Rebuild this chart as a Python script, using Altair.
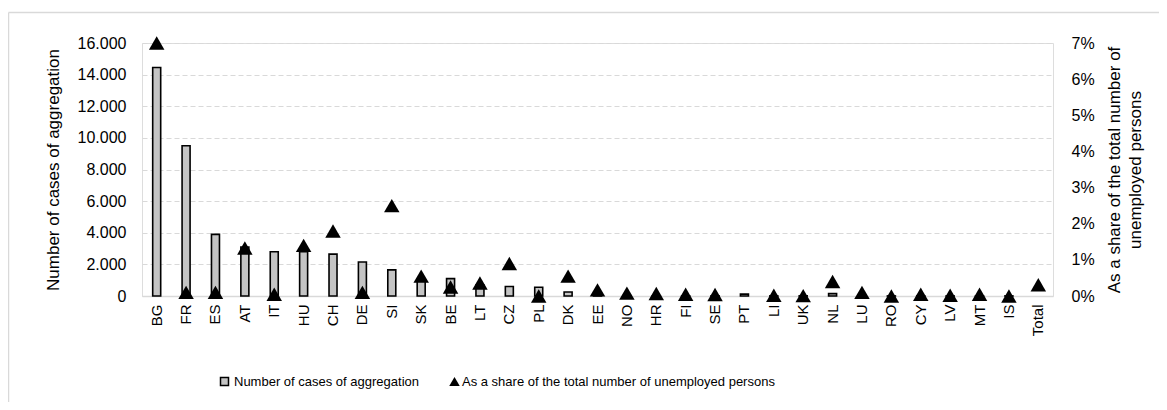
import altair as alt
import pandas as pd

countries = ["BG", "FR", "ES", "AT", "IT", "HU", "CH", "DE", "SI", "SK", "BE", "LT", "CZ", "PL", "DK",
             "EE", "NO", "HR", "FI", "SE", "PT", "LI", "UK", "NL", "LU", "RO", "CY", "LV", "MT", "IS", "Total"]
cases = [14450, 9500, 3900, 3100, 2800, 2800, 2650, 2150, 1650, 1000, 1100, 700, 600, 550, 250,
         20, 20, 20, 10, 10, 120, 5, 10, 150, 10, 5, 5, 5, 5, 5, None]
share = [0.070, 0.001, 0.001, 0.0133, 0.0005, 0.014, 0.018, 0.001, 0.025, 0.0055, 0.0025, 0.0036, 0.009, 0.0, 0.0055,
         0.0017, 0.0008, 0.0007, 0.0005, 0.0004, None, 0.0002, 0.0001, 0.004, 0.001, 0.0, 0.0005, 0.0002, 0.0005, 0.0, 0.0031]

bar_name = "Number of cases of aggregation"
pt_name = "As a share of the total number of unemployed persons"

df = pd.DataFrame({"country": countries, "cases": cases, "share": share,
                   "s1": bar_name, "s2": pt_name})

FONT = "Liberation Sans"
W, H = 911, 253

x = alt.X("country:N", sort=countries, title=None,
          scale=alt.Scale(paddingInner=0.0, paddingOuter=0.0),
          axis=alt.Axis(labelAngle=270, labelFontSize=15, labelColor="#000", labelPadding=8,
                        ticks=False, domainColor="#d9d9d9", domainWidth=1.5, labelFont=FONT,
                        labelBaseline="middle", labelAlign="right"))

bars = alt.Chart(df).mark_bar(size=8, stroke="black", strokeWidth=1.6).encode(
    x=x,
    y=alt.Y("cases:Q", scale=alt.Scale(domain=[0, 16000], nice=False),
            axis=alt.Axis(values=list(range(0, 16001, 2000)),
                          labelExpr="replace(format(datum.value, ','), ',', '.')",
                          title="Number of cases of aggregation", titleFontSize=17, titleFontWeight="normal",
                          titleFont=FONT, titleColor="#000", titlePadding=15,
                          labelFontSize=16, labelFont=FONT, labelColor="#000", labelPadding=16,
                          ticks=False, domain=False, grid=True, gridColor="#d9d9d9",
                          gridDash=[5, 3], gridWidth=1.2)),
    fill=alt.Fill("s1:N", scale=alt.Scale(domain=[bar_name], range=["#c4c4c4"]),
                  legend=alt.Legend(title=None, orient="none", legendX=76, legendY=332,
                                    symbolType="square", symbolStrokeColor="black", symbolStrokeWidth=1.5,
                                    symbolSize=64, labelFontSize=13, labelFont=FONT, labelColor="#000",
                                    labelOffset=3, labelLimit=0)),
)

pts = alt.Chart(df).mark_point(shape="triangle-up", filled=True, size=240, opacity=1).encode(
    x=x,
    y=alt.Y("share:Q", scale=alt.Scale(domain=[0, 0.07], nice=False),
            axis=alt.Axis(orient="right", values=[0, 0.01, 0.02, 0.03, 0.04, 0.05, 0.06, 0.07], format=".0%",
                          title=["As a share of the total number of", "unemployed persons"],
                          titleAngle=270, titleFontSize=17, titleFontWeight="normal", titleFont=FONT,
                          titleColor="#000", titlePadding=8, titleLineHeight=21,
                          labelFontSize=16, labelFont=FONT, labelColor="#000", labelPadding=18,
                          ticks=False, domain=False, grid=False)),
    color=alt.Color("s2:N", scale=alt.Scale(domain=[pt_name], range=["black"]),
                    legend=alt.Legend(title=None, orient="none", legendX=306, legendY=332,
                                      symbolType="triangle-up", symbolSize=110, labelFontSize=13,
                                      labelFont=FONT, labelColor="#000", labelOffset=1, labelLimit=0)),
)

frame_df = pd.DataFrame({"k": [0]})
frame_left = alt.Chart(frame_df).mark_rule(color="#d9d9d9", strokeWidth=1.5).encode(
    x=alt.value(-133.5), y=alt.value(-30.5), y2=alt.value(370))
frame_top = alt.Chart(frame_df).mark_rule(color="#d9d9d9", strokeWidth=1.5).encode(
    x=alt.value(-133.5), x2=alt.value(1030), y=alt.value(-30.5))

chart = alt.layer(bars, pts, frame_left, frame_top).resolve_scale(
    y="independent", fill="independent", color="independent"
).properties(
    width=W, height=H,
    autosize=alt.AutoSizeParams(type="none"),
    padding={"left": 134, "top": 35, "right": 106, "bottom": 106},
).configure_view(stroke=None).configure(background="white")

chart.save("out.html", embed_options={"renderer": "svg", "actions": False})
